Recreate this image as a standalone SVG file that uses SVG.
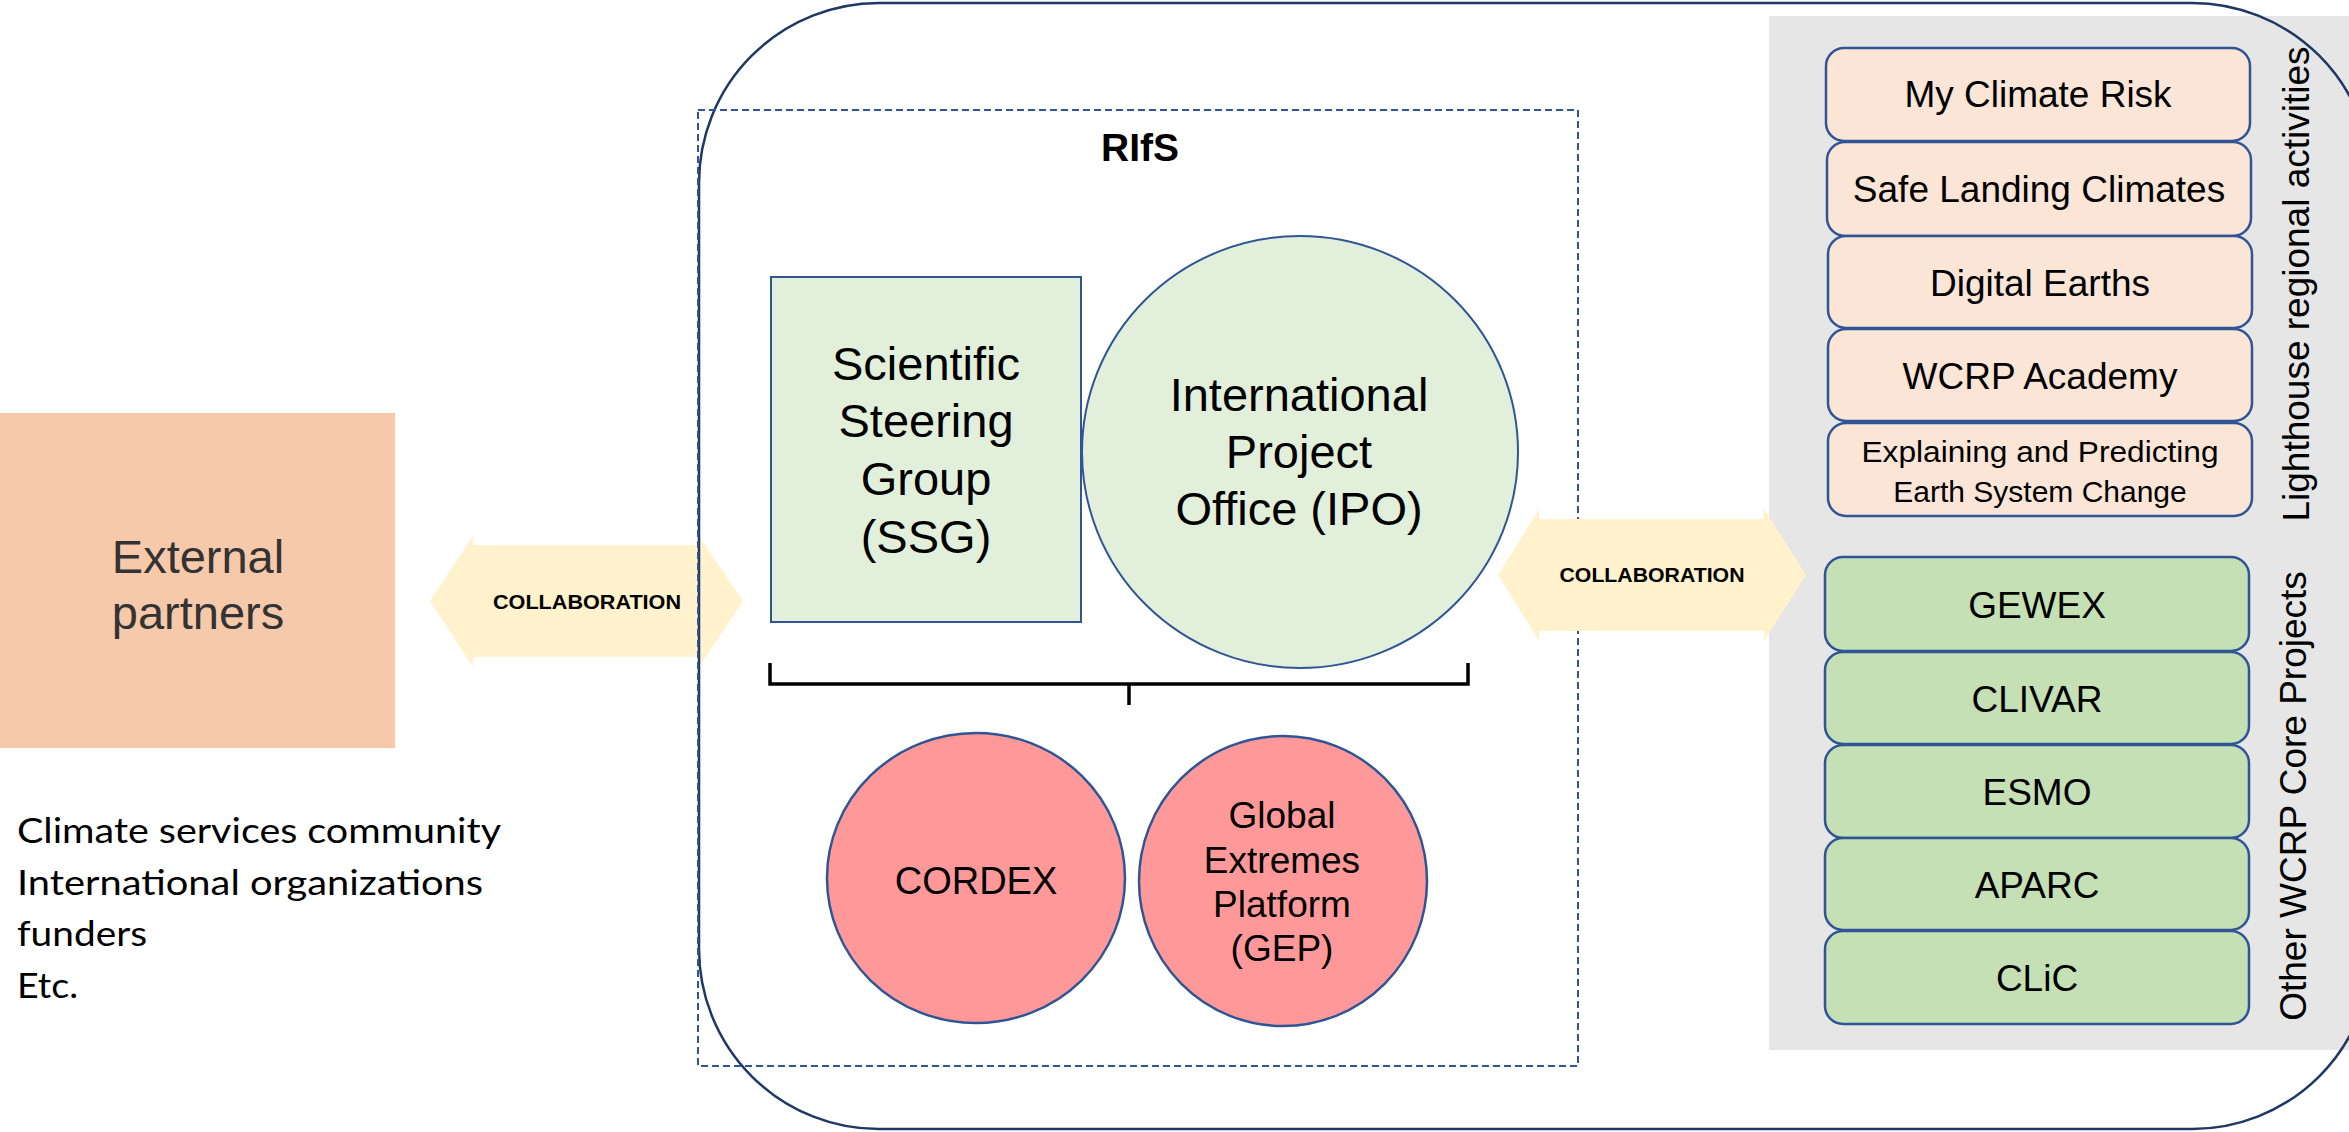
<svg xmlns="http://www.w3.org/2000/svg" width="2349" height="1132" viewBox="0 0 2349 1132">
<defs>
<style>
text{font-family:"Liberation Sans",Arial,sans-serif;fill:#000;}
.c{text-anchor:middle;}
.pk{fill:#FBE5D6;stroke:#2F5597;stroke-width:2.5;}
.gr{fill:#C5E0B4;stroke:#2F5597;stroke-width:2.5;}
.lg{fill:#E2EFDA;stroke:#2F5597;stroke-width:2;}
.rd{fill:#FF9999;stroke:#2F5597;stroke-width:2.5;}
.arrow{fill:#FFF2CC;}
.t37{font-size:37px;}
.t47{font-size:47px;}
.collab{font-size:21px;font-weight:bold;}
.side{font-size:37px;}
.cal{font-family:"Lato","Liberation Sans",sans-serif;font-size:35px;}
</style>
</defs>
<rect width="2349" height="1132" fill="#FFFFFF"/>

<g id="panel-right">
<rect x="1769" y="16" width="600" height="1034" fill="#E7E6E6"/>
</g>

<g id="external-partners">
<rect x="0" y="413" width="395" height="335" fill="#F7C9AB"/>
<text class="c t47" x="198" y="573" style="fill:#333">External</text>
<text class="c t47" x="198" y="629" style="fill:#333">partners</text>
</g>

<g id="external-list">
<text class="cal" x="17" y="843" textLength="484" lengthAdjust="spacingAndGlyphs">Climate services community</text>
<text class="cal" x="17" y="895" textLength="466" lengthAdjust="spacingAndGlyphs">International organizations</text>
<text class="cal" x="17" y="946" textLength="130" lengthAdjust="spacingAndGlyphs">funders</text>
<text class="cal" x="17" y="998" textLength="61" lengthAdjust="spacingAndGlyphs">Etc.</text>
</g>

<g id="connectors">
<g id="collab-left">
<polygon class="arrow" points="430,601 473,536 473,545 699,545 699,536 743,601 699,667 699,657 473,657 473,667"/>
<text class="c collab" x="587" y="609" textLength="188" lengthAdjust="spacingAndGlyphs">COLLABORATION</text>
</g>
</g>

<g id="wcrp-frame">
<rect x="699" y="3" width="1673" height="1126" rx="180" ry="180" fill="none" stroke="#1F3864" stroke-width="2.5"/>
</g>

<g id="rifs">
<rect x="698" y="110" width="880" height="956" fill="none" stroke="#2F5597" stroke-width="2" stroke-dasharray="7,4"/>
<text class="c" x="1140" y="161" style="font-size:39px;font-weight:bold">RIfS</text>
</g>

<g id="connectors2">
<g id="collab-right">
<polygon class="arrow" points="1498,575 1539,509 1539,519 1764,519 1764,509 1806,575 1764,641 1764,631 1539,631 1539,641"/>
<text class="c collab" x="1652" y="582" textLength="185" lengthAdjust="spacingAndGlyphs">COLLABORATION</text>
</g>
<path id="bracket" d="M770,663 V684 H1468 V663 M1129,684 V705" fill="none" stroke="#000" stroke-width="3.5"/>
</g>

<g id="ssg">
<rect class="lg" x="771" y="277" width="310" height="345"/>
<text class="c t47" x="926" y="380">Scientific</text>
<text class="c t47" x="926" y="437">Steering</text>
<text class="c t47" x="926" y="495">Group</text>
<text class="c t47" x="926" y="553">(SSG)</text>
</g>

<g id="ipo">
<ellipse class="lg" cx="1300" cy="452" rx="218" ry="216"/>
<text class="c t47" x="1299" y="411">International</text>
<text class="c t47" x="1299" y="468">Project</text>
<text class="c t47" x="1299" y="525">Office (IPO)</text>
</g>

<g id="cordex">
<ellipse class="rd" cx="976" cy="878" rx="149" ry="145"/>
<text class="c" x="976" y="894" style="font-size:38px">CORDEX</text>
</g>

<g id="gep">
<ellipse class="rd" cx="1283" cy="881" rx="144" ry="145"/>
<text class="c t37" x="1282" y="828">Global</text>
<text class="c t37" x="1282" y="873">Extremes</text>
<text class="c t37" x="1282" y="917">Platform</text>
<text class="c t37" x="1282" y="961">(GEP)</text>
</g>

<g id="lighthouse">
<g id="lh-mcr"><rect class="pk" x="1826" y="48" width="424" height="93" rx="18"/><text class="c t37" x="2038" y="107">My Climate Risk</text></g>
<g id="lh-slc"><rect class="pk" x="1827" y="142" width="424" height="94" rx="18"/><text class="c t37" x="2039" y="202">Safe Landing Climates</text></g>
<g id="lh-de"><rect class="pk" x="1828" y="236" width="424" height="92" rx="18"/><text class="c t37" x="2040" y="296">Digital Earths</text></g>
<g id="lh-acad"><rect class="pk" x="1828" y="329" width="424" height="92" rx="18"/><text class="c t37" x="2040" y="389">WCRP Academy</text></g>
<g id="lh-epesc"><rect class="pk" x="1828" y="423" width="424" height="93" rx="18"/>
<text class="c" x="2040" y="462" style="font-size:30px" textLength="357" lengthAdjust="spacingAndGlyphs">Explaining and Predicting</text>
<text class="c" x="2040" y="502" style="font-size:30px">Earth System Change</text></g>
<text class="c side" transform="translate(2309,284) rotate(-90)">Lighthouse regional activities</text>
</g>

<g id="core-projects">
<g id="cp-gewex"><rect class="gr" x="1825" y="557" width="424" height="94" rx="18"/><text class="c t37" x="2037" y="618">GEWEX</text></g>
<g id="cp-clivar"><rect class="gr" x="1825" y="652" width="424" height="92" rx="18"/><text class="c t37" x="2037" y="712">CLIVAR</text></g>
<g id="cp-esmo"><rect class="gr" x="1825" y="745" width="424" height="93" rx="18"/><text class="c t37" x="2037" y="805">ESMO</text></g>
<g id="cp-aparc"><rect class="gr" x="1825" y="838" width="424" height="92" rx="18"/><text class="c t37" x="2037" y="898">APARC</text></g>
<g id="cp-clic"><rect class="gr" x="1825" y="931" width="424" height="93" rx="18"/><text class="c t37" x="2037" y="991">CLiC</text></g>
<text class="c side" transform="translate(2306,796) rotate(-90)">Other WCRP Core Projects</text>
</g>
</svg>
